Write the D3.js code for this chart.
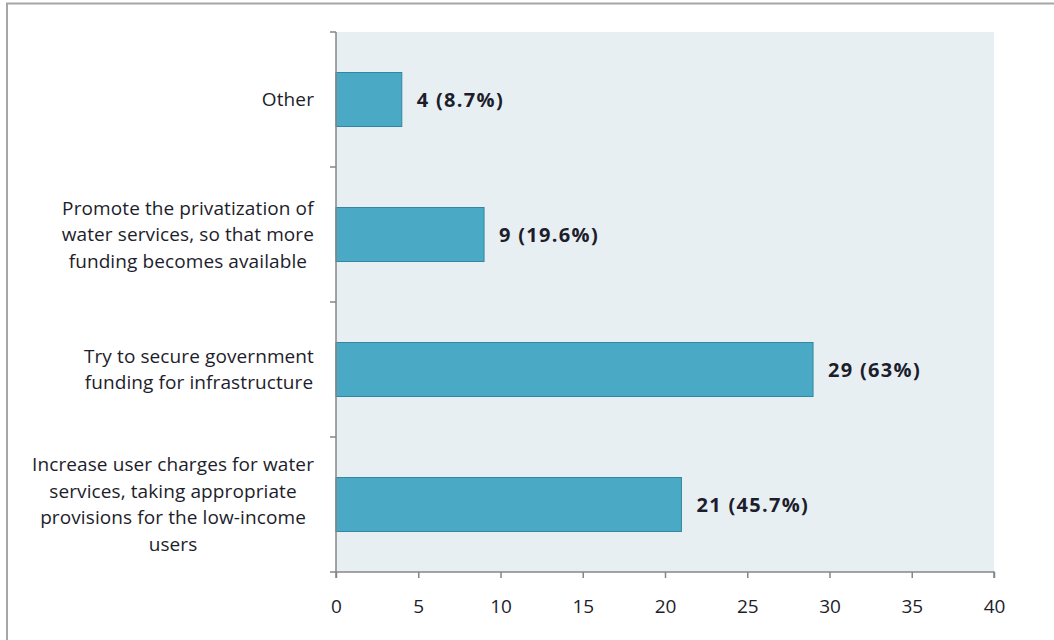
<!DOCTYPE html>
<html>
<head>
<meta charset="utf-8">
<script src="https://cdn.jsdelivr.net/npm/d3@7"></script>
<style>
  html, body { margin: 0; padding: 0; background: #ffffff; }
  svg { display: block; }
  text { font-family: "Open Sans", Lato, sans-serif; fill: #1d1d2b; }
</style>
</head>
<body>
<svg id="chart" width="1054" height="640"></svg>
<script>
// Survey responses: how to fund water infrastructure
const categories = [
  "Other",
  "Promote the privatization of|water services, so that more|funding becomes available",
  "Try to secure government|funding for infrastructure",
  "Increase user charges for water|services, taking appropriate|provisions for the low-income|users"
];
const counts = [4, 9, 29, 21];
const shares = ["8.7%", "19.6%", "63%", "45.7%"];
const xTicks = [0, 5, 10, 15, 20, 25, 30, 35, 40];

const svg = d3.select("#chart");
const W = 1054, H = 640;
const plot = { left: 336, right: 994, top: 32, bottom: 572 };

// outer chart frame
svg.append("rect")
  .attr("x", 7).attr("y", 3.5)
  .attr("width", W + 20).attr("height", H + 20)
  .attr("fill", "#ffffff")
  .attr("stroke", "#a6a6a6").attr("stroke-width", 2);

const x = d3.scaleLinear().domain([0, 40]).range([plot.left, plot.right]);
const y = d3.scaleBand().domain(categories).range([plot.top, plot.bottom])
  .paddingInner(0.6).paddingOuter(0.3);
const yBand = d3.scaleBand().domain(categories).range([plot.top, plot.bottom]);

// plot area background
svg.append("rect")
  .attr("x", plot.left).attr("y", plot.top)
  .attr("width", plot.right - plot.left).attr("height", plot.bottom - plot.top)
  .attr("fill", "#e8eff3");

// bars
svg.append("g").selectAll("rect")
  .data(categories)
  .join("rect")
  .attr("x", x(0))
  .attr("y", d => y(d))
  .attr("width", (d, i) => x(counts[i]) - x(0))
  .attr("height", y.bandwidth())
  .attr("fill", "#4aaac5")
  .attr("stroke", "#3487a0")
  .attr("stroke-width", 1);

// value labels
svg.append("g").selectAll("text")
  .data(categories)
  .join("text")
  .attr("x", (d, i) => x(counts[i]) + 15)
  .attr("y", d => y(d) + y.bandwidth() / 2)
  .attr("dy", "0.35em")
  .attr("font-size", 20)
  .attr("font-weight", "bold")
  .attr("letter-spacing", 1.3)
  .text((d, i) => `${counts[i]} (${shares[i]})`);

// x axis
const xAxis = d3.axisBottom(x).tickValues(xTicks).tickSize(6).tickPadding(22);
const gx = svg.append("g").attr("transform", `translate(0,${plot.bottom})`).call(xAxis);
gx.select(".domain").attr("stroke", "#868686").attr("stroke-width", 1.5)
  .attr("d", `M${plot.left},6V0H${plot.right}V6`);
gx.selectAll(".tick line").attr("stroke", "#868686").attr("stroke-width", 1.5);
gx.selectAll(".tick text").attr("font-size", 19).attr("font-family", "\"Open Sans\", sans-serif").attr("fill", "#1d1d2b");

// y axis: line with ticks at category boundaries
const boundaries = categories.map(d => yBand(d)).concat([plot.bottom]);
svg.append("line")
  .attr("x1", plot.left).attr("x2", plot.left)
  .attr("y1", plot.top).attr("y2", plot.bottom)
  .attr("stroke", "#868686").attr("stroke-width", 1.5);
svg.append("g").selectAll("line")
  .data(boundaries)
  .join("line")
  .attr("x1", plot.left - 6).attr("x2", plot.left)
  .attr("y1", d => d).attr("y2", d => d)
  .attr("stroke", "#868686").attr("stroke-width", 1.5);

// category labels: multi-line, centered within a block right-aligned to the axis
const lineH = 26.5;
const labelRight = 314;
const gl = svg.append("g");
categories.forEach(cat => {
  const lines = cat.split("|");
  const t = gl.append("text").attr("font-size", 19).attr("letter-spacing", 0.1).attr("text-anchor", "middle");
  const cy = yBand(cat) + yBand.bandwidth() / 2;
  lines.forEach((ln, j) => {
    t.append("tspan")
      .attr("y", cy + (j - (lines.length - 1) / 2) * lineH)
      .attr("dy", "0.35em")
      .text(ln);
  });
  let maxW = 0;
  t.selectAll("tspan").each(function () { maxW = Math.max(maxW, this.getComputedTextLength()); });
  t.selectAll("tspan").attr("x", labelRight - maxW / 2);
});
</script>
</body>
</html>
